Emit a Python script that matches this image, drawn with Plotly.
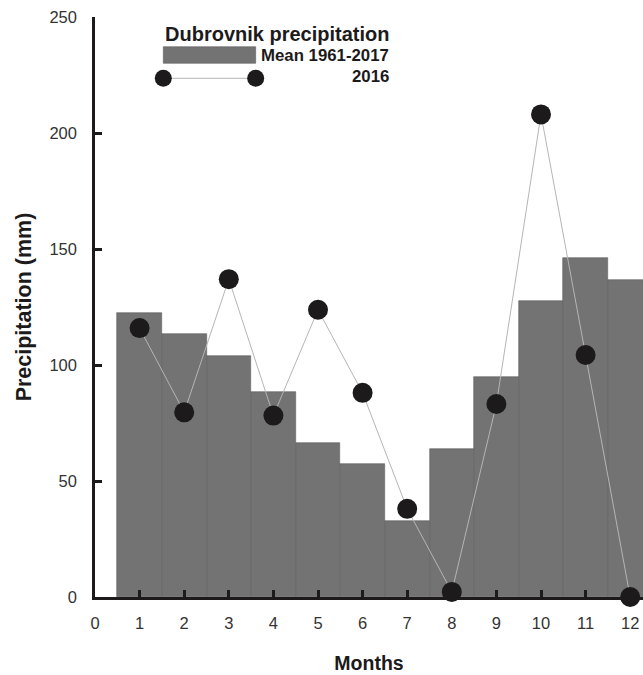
import plotly.graph_objects as go

months = [1, 2, 3, 4, 5, 6, 7, 8, 9, 10, 11, 12]
mean_1961_2017 = [122.6, 113.5, 104.0, 88.2, 66.3, 57.4, 32.6, 63.9, 94.7, 127.7, 146.3, 136.7]
precip_2016 = [115.9, 79.6, 137.0, 78.2, 123.8, 88.0, 38.0, 2.2, 83.2, 208.0, 104.3, 0.0]
x_ticks = [0, 1, 2, 3, 4, 5, 6, 7, 8, 9, 10, 11, 12]
y_ticks = [0, 50, 100, 150, 200, 250]

W, H = 643, 675
ML, MR, MT, MB = 95, 0, 17, 78
PW, PH = W - ML - MR, H - MT - MB

def px(x):
    return (x - ML) / PW

def py(y):
    return (H - MB - y) / PH

FONT = "Liberation Sans, Arial, sans-serif"
BAR = "#737373"
DARK = "#1c1a1b"

fig = go.Figure()
fig.add_trace(go.Bar(
    x=months, y=mean_1961_2017, width=1.0,
    marker=dict(color=BAR, line=dict(color="#5f5f5f", width=0.6)),
    name="Mean 1961-2017", showlegend=False,
))
fig.add_trace(go.Scatter(
    x=months, y=precip_2016, mode="lines+markers",
    line=dict(color="#b5b5b5", width=1),
    marker=dict(color=DARK, size=20),
    cliponaxis=False, name="2016", showlegend=False,
))

shapes = []
annotations = []
annotations.append(dict(xref="paper", yref="paper", x=px(391), y=py(34),
                        xanchor="right", yanchor="middle", showarrow=False,
                        text="<b>Dubrovnik precipitation</b>",
                        font=dict(family=FONT, size=20, color=DARK)))
annotations.append(dict(xref="paper", yref="paper", x=px(391), y=py(55),
                        xanchor="right", yanchor="middle", showarrow=False,
                        text="<b>Mean 1961-2017</b>",
                        font=dict(family=FONT, size=16.8, color=DARK)))
annotations.append(dict(xref="paper", yref="paper", x=px(391), y=py(76),
                        xanchor="right", yanchor="middle", showarrow=False,
                        text="<b>2016</b>",
                        font=dict(family=FONT, size=16.8, color=DARK)))
shapes.append(dict(type="rect", xref="paper", yref="paper",
                   x0=px(163.3), x1=px(255.7), y0=py(63.3), y1=py(46.7),
                   fillcolor=BAR, line=dict(color="#5f5f5f", width=0.6)))
shapes.append(dict(type="line", xref="paper", yref="paper",
                   x0=px(163.3), x1=px(255.7), y0=py(78.3), y1=py(78.3),
                   line=dict(color="#b5b5b5", width=1)))
for cx in (163.3, 255.7):
    shapes.append(dict(type="circle", xref="paper", yref="paper",
                       xsizemode="pixel", ysizemode="pixel",
                       xanchor=px(cx), yanchor=py(78.3),
                       x0=-8.5, x1=8.5, y0=-8.5, y1=8.5,
                       fillcolor=DARK, line=dict(width=0)))

fig.update_layout(
    width=W, height=H,
    margin=dict(l=ML, r=MR, t=MT, b=MB),
    paper_bgcolor="white", plot_bgcolor="white",
    bargap=0,
    shapes=shapes, annotations=annotations,
    font=dict(family=FONT, color="#333333"),
    xaxis=dict(
        range=[0, PW / 44.6], tickvals=x_ticks, ticktext=[str(v) for v in x_ticks],
        ticks="inside", ticklen=7, tickwidth=2.5, tickcolor=DARK,
        showline=True, linecolor=DARK, linewidth=2.5,
        showgrid=False, zeroline=False,
        tickfont=dict(family=FONT, size=16.5, color="#333333"),
        ticklabelstandoff=9,
        title=dict(text="<b>Months</b>", standoff=26,
                   font=dict(family=FONT, size=19.5, color=DARK)),
    ),
    yaxis=dict(
        range=[0, 250], tickvals=y_ticks,
        ticks="inside", ticklen=7, tickwidth=2.5, tickcolor=DARK,
        showline=True, linecolor=DARK, linewidth=2.5,
        showgrid=False, zeroline=False,
        tickfont=dict(family=FONT, size=16.5, color="#333333"),
        ticklabelstandoff=12,
        title=dict(text="<b>Precipitation (mm)</b>", standoff=12,
                   font=dict(family=FONT, size=21.5, color=DARK)),
    ),
)

fig.write_html("out.html", config={"displayModeBar": False},
               post_script="document.body.style.margin='0px';")
